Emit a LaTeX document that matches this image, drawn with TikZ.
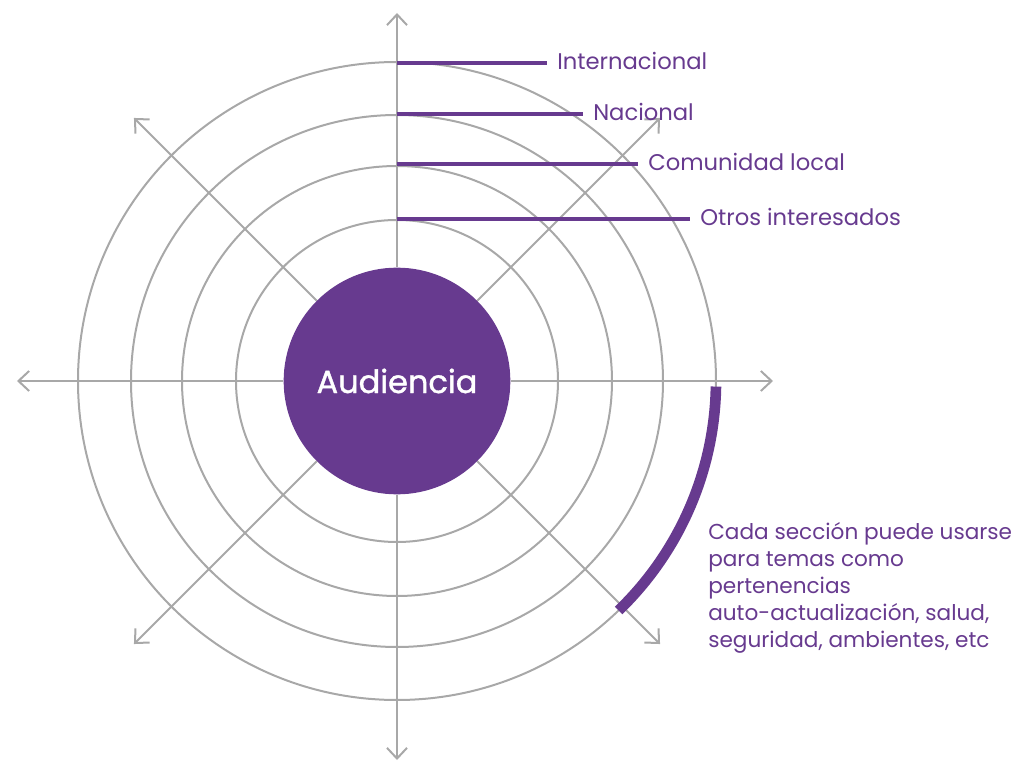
\documentclass[tikz,border=0pt]{standalone}
\usepackage{fontspec}
\setmainfont{Poppins}
\newfontfamily\audfont[FakeBold=1.2]{Poppins}
\usetikzlibrary{arrows.meta,calc,positioning}
\definecolor{ringgray}{RGB}{168,168,168}
\definecolor{audpurple}{RGB}{103,58,143}

\begin{document}
\begin{tikzpicture}[x=0.75pt,y=0.75pt,>={Straight Barb[length=8pt,width=15pt]},
  ring/.style={draw=ringgray,line width=1.5pt},
  ax/.style={ring,->},
  rim/.style={draw=audpurple,line width=3pt},
  lbl/.style={anchor=west,text=audpurple,inner ysep=0pt,inner xsep=7.5pt,
    font=\fontsize{17}{20}\selectfont},
  note/.style={anchor=north west,text=audpurple,inner sep=0pt,align=left,
    font=\fontsize{16.2}{20.2}\selectfont}]
\useasboundingbox (-397,-382) rectangle (619,381);
\coordinate (O) at (0,0);
% rings
\foreach \r in {161,215,266,319}
  \draw[ring] (O) circle (\r);
\node[circle,fill=audpurple,minimum size=170pt,inner sep=0pt,text=white,
  font=\audfont\fontsize{24}{28}\selectfont] (aud) at (O) {Audiencia};
% axes
\foreach \a/\l in {0/376,45/372,90/368,135/372,180/380,225/372,270/379,315/372}
  \draw[ax] (aud) -- (\a:\l);
% levels
\node[lbl] (intl) at (150,320) {Internacional};
\node[lbl] (nac) at (186,269) {Nacional};
\node[lbl] (com) at (241,219) {Comunidad local};
\node[lbl] (otr) at (293,164) {Otros interesados};
\foreach \n in {intl,nac,com,otr}
  \draw[rim] ($(O |- \n.west)+(0,-2)$) -- ($(\n.west)+(0,-2)$);
% section
\draw[rim,line width=8pt] (-1:319) arc[start angle=-1,end angle=-46,radius=319];
\node[note] (sec) at (311,-141) {Cada sección puede usarse\\para temas como\\pertenencias\\auto-actualización, salud,\\seguridad, ambientes, etc};
\end{tikzpicture}
\end{document}
